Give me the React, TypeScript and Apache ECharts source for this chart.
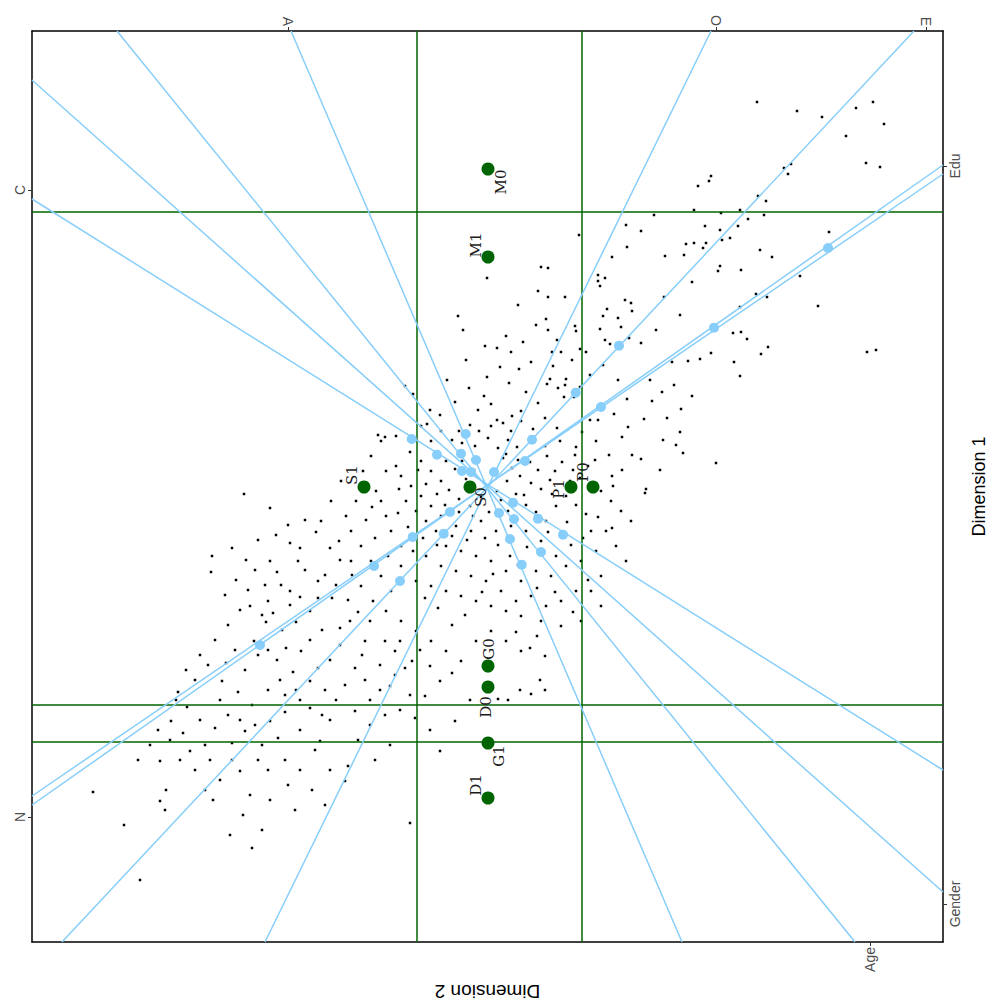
import React, { useEffect, useRef } from "react";
import * as echarts from "echarts";

// Plot units (the chart has no numeric scale; units follow the picture, y grows downward)
const X_MIN = 32;
const X_MAX = 943;
const Y_MIN = 31;
const Y_MAX = 942;

// Variable axes (calibrated biplot axes): names and the two points where each meets the frame
const variableNames = ["A", "O", "E", "C", "N", "Edu", "Gender", "Age"];
const variableLines: number[][][] = [
  [[291, 31], [682, 942]],
  [[711, 31], [265, 942]],
  [[914, 31], [62, 942]],
  [[32, 199], [943, 770]],
  [[32, 805], [943, 165]],
  [[32, 796], [943, 174]],
  [[32, 80], [943, 892]],
  [[117, 31], [855, 942]],
];

// Calibration markers on the variable axes
const axisMarkers: number[][] = [
  [411.7, 439], [437, 454.7], [465.7, 434], [461, 453.7], [476, 460], [462, 471],
  [471, 472], [494, 472], [532, 439.7], [525, 461], [513, 502.7], [499, 513],
  [514, 519], [538, 518.7], [563, 534.7], [541, 552], [510, 539], [521.7, 564.7],
  [450, 512], [443.7, 533.7], [412.7, 537], [619, 345.7], [575.7, 392.7], [601, 407],
  [714, 327.7], [828, 248], [374, 566], [400, 581], [260, 645],
];

// Category level points
const levelNames = ["M0", "M1", "S1", "S0", "P1", "P0", "G0", "D0", "G1", "D1"];
const levelPoints: number[][] = [
  [488, 169], [488, 257], [364, 487], [470, 487], [571, 487],
  [593, 487], [488, 666], [488, 687], [488, 743], [488, 798],
];

// Reference lines
const verticalRefs = [417, 582];
const horizontalRefs = [212, 705, 742];

// Frame tick labels (variable names at the frame)
const topTickValues = [288, 716, 926];
const topTickLabels = ["A", "O", "E"];
const bottomTickValues = [870];
const bottomTickLabels = ["Age"];
const leftTickValues = [190, 817];
const leftTickLabels = ["C", "N"];
const rightTickValues = [166, 904];
const rightTickLabels = ["Edu", "Gender"];

// Individuals
const individuals: number[][] = [
  // upper right
  [757, 102], [797, 111], [873, 102], [884, 124], [822, 117], [846, 136], [856, 108], [866, 163],
  [880, 167], [791, 164], [788, 174], [784, 168], [709, 181], [711, 176], [698, 186], [758, 196],
  [766, 201], [764, 215], [721, 213], [740, 210], [748, 219], [694, 210], [738, 226], [720, 230],
  [722, 240], [730, 238], [706, 243], [686, 244], [694, 243], [703, 248], [760, 250], [772, 257],
  [684, 255], [654, 215], [641, 231], [626, 225], [627, 247], [665, 256], [705, 226], [829, 232],
  [720, 266], [718, 271], [741, 270], [756, 294], [740, 307], [767, 297], [733, 333], [747, 339],
  [741, 332], [800, 276], [818, 306], [612, 257], [598, 281], [600, 286], [598, 275], [605, 278],
  [625, 300], [631, 303], [632, 311], [607, 309], [603, 316], [600, 329], [621, 327], [618, 318],
  [629, 338], [610, 344], [605, 340], [664, 297], [680, 315], [692, 282], [656, 330],
  // right middle
  [761, 354], [768, 347], [734, 362], [740, 376], [711, 353], [700, 359], [688, 361], [672, 362],
  [641, 343], [662, 392], [674, 385], [681, 409], [680, 432], [683, 453], [676, 445], [716, 463],
  [663, 440], [644, 419], [652, 401], [667, 418], [641, 459], [867, 352], [876, 350], [646, 489],
  [645, 493], [692, 396], [650, 380], [660, 470],
  // upper centre
  [538, 291], [565, 297], [548, 268], [579, 235], [541, 267], [548, 297], [575, 326], [576, 331],
  [580, 349], [586, 352], [561, 352], [572, 360], [552, 352], [557, 340], [548, 330], [536, 325],
  [546, 319], [553, 366], [550, 379], [547, 384], [558, 388], [565, 385], [566, 379], [564, 397],
  [574, 397], [580, 387], [590, 420], [598, 420], [622, 437], [628, 427], [614, 414], [627, 399],
  [609, 455], [595, 460], [613, 486], [612, 476], [518, 305], [506, 336], [523, 342], [511, 352],
  [531, 362], [519, 369], [500, 367], [509, 383], [526, 392], [538, 403], [521, 411], [512, 416],
  [503, 423], [533, 429], [545, 418], [557, 428], [560, 441], [576, 447], [582, 432], [596, 441],
  [588, 466], [573, 470], [547, 456], [530, 462], [517, 447], [508, 440], [590, 375], [603, 365],
  [618, 380], [632, 455], [622, 470],
  [458, 316], [466, 360], [485, 346], [497, 348], [487, 377], [469, 388], [484, 396], [491, 404],
  [478, 410], [497, 420], [405, 386], [413, 394], [385, 437], [378, 435], [427, 424], [440, 415],
  [455, 402], [447, 380], [430, 410], [470, 425], [463, 330], [487, 278],
  // core
  [452, 440], [462, 443], [475, 446], [488, 438], [498, 448], [503, 458], [512, 468], [520, 476],
  [531, 483], [541, 489], [552, 494], [507, 481], [497, 491], [481, 497], [470, 506], [459, 499],
  [449, 490], [441, 481], [431, 471], [421, 461], [410, 452], [446, 461], [455, 469], [466, 479],
  [501, 500], [516, 494], [526, 505], [536, 512], [546, 521], [556, 506], [566, 496], [576, 505],
  [586, 514], [591, 531], [571, 545], [556, 556], [541, 541], [526, 531], [511, 526], [496, 531],
  [481, 521], [471, 531], [456, 526], [441, 516], [431, 506], [421, 496], [411, 486], [401, 476],
  [396, 466], [406, 501], [416, 511], [426, 521], [436, 531], [446, 546], [461, 551], [476, 556],
  [491, 561], [506, 571], [521, 581], [536, 571], [551, 576], [566, 566], [581, 561], [596, 551],
  [601, 576], [591, 591], [576, 591], [561, 601], [546, 606], [531, 596], [516, 601], [501, 591],
  [486, 581], [471, 576], [456, 571], [441, 566], [426, 556], [413, 551], [401, 546], [391, 531],
  [386, 516], [381, 501], [376, 491], [371, 456], [381, 441], [396, 436], [421, 426], [386, 471],
  [399, 489], [431, 441], [441, 431], [459, 431], [479, 431], [491, 426], [511, 431], [521, 421],
  [532, 441], [545, 446], [555, 471], [570, 481], [580, 478], [601, 491], [611, 501], [621, 511],
  [631, 521], [606, 531], [616, 546], [626, 561], [601, 606], [581, 621], [561, 626], [541, 621],
  [521, 616], [506, 611], [491, 606], [476, 601], [461, 596], [446, 591], [431, 586], [416, 581],
  [401, 566], [391, 591], [381, 576], [371, 561], [361, 546], [351, 531], [346, 516], [356, 501],
  [363, 471], [341, 481], [331, 501], [321, 521], [339, 541], [351, 561], [361, 586], [373, 601],
  [386, 611], [401, 621], [416, 631], [431, 641], [446, 651], [461, 661], [476, 641], [491, 631],
  [506, 641], [521, 651], [537, 636], [545, 656], [465, 615], [452, 625], [438, 608], [425, 598],
  [482, 592], [493, 574], [510, 556], [527, 547], [548, 532], [567, 522], [583, 538], [598, 517],
  [612, 528], [588, 580], [573, 612], [555, 592], [537, 588], [518, 565], [498, 545], [485, 538],
  [467, 540], [452, 536], [437, 545], [423, 538], [408, 527], [398, 513], [388, 556], [375, 538],
  [366, 520], [372, 507], [437, 494], [426, 484], [418, 470], [462, 461], [474, 470], [506, 454],
  [518, 460], [538, 470], [550, 480], [562, 462], [575, 455], [524, 495], [508, 511], [489, 512],
  [473, 516], [459, 512], [445, 505],
  // lower left
  [244, 494], [270, 508], [232, 548], [212, 556], [211, 572], [290, 543], [300, 548], [298, 561],
  [270, 561], [281, 585], [268, 601], [250, 606], [262, 615], [273, 613], [254, 641], [266, 622],
  [290, 591], [300, 597], [310, 611], [325, 575], [318, 581], [332, 598], [340, 628], [330, 660],
  [318, 668], [301, 651], [286, 648], [277, 660], [293, 672], [310, 681], [325, 690], [300, 700],
  [285, 712], [270, 721], [252, 705], [238, 692], [226, 663], [222, 681], [220, 700], [208, 665],
  [187, 707], [178, 692], [171, 721], [183, 733], [205, 745], [190, 751], [210, 760], [232, 743],
  [245, 731], [262, 745], [278, 738], [285, 760], [268, 770], [250, 795], [243, 815], [262, 830],
  [240, 771], [213, 800], [160, 801], [165, 810], [140, 880], [93, 792], [124, 825], [160, 761],
  [348, 766], [345, 781], [320, 741], [330, 720], [355, 711], [370, 700], [390, 686], [410, 695],
  [395, 651], [380, 665], [365, 641], [350, 621], [370, 621], [385, 641], [400, 641], [412, 661],
  [430, 666], [440, 681], [425, 696], [410, 823], [440, 751], [455, 721], [470, 700], [508, 700],
  [520, 690], [540, 680], [516, 632], [530, 648], [545, 690], [316, 532], [305, 520], [288, 525],
  [276, 535], [258, 540], [246, 560], [236, 580], [225, 595], [240, 610], [228, 625], [215, 640],
  [200, 655], [195, 680], [186, 670], [176, 700], [200, 720], [215, 728], [228, 715], [240, 720],
  [255, 725], [268, 690], [280, 680], [296, 690], [310, 708], [322, 715], [336, 700], [345, 685],
  [355, 668], [362, 655], [340, 645], [322, 630], [310, 640], [296, 622], [282, 630], [348, 600],
  [358, 612], [336, 585], [318, 598], [352, 575], [340, 560], [330, 548], [305, 570], [290, 605],
  [277, 572], [265, 585], [255, 570], [248, 590], [258, 655], [245, 670], [235, 650], [268, 650],
  [285, 695], [300, 730], [315, 750], [330, 770], [300, 770], [288, 785], [270, 800], [258, 760],
  [312, 790], [325, 805], [295, 810], [232, 760], [220, 780], [205, 790], [195, 770], [180, 760],
  [170, 740], [158, 730], [150, 745], [138, 760], [166, 790], [230, 835], [252, 848], [358, 740],
  [370, 725], [385, 715], [400, 710], [415, 718], [430, 730], [380, 690], [395, 675], [405, 668],
  [420, 650], [365, 680], [375, 760], [390, 745], [452, 673], [498, 699], [531, 694],
];

// label displacement of the level names on screen (styling): [right, down]
const levelLabelShift: number[][] = [
  [13, 13], [-12, -12], [-12, -12], [11, 10], [-12, 2],
  [-10, -15], [1, -17], [-2, 20], [11, 13], [-12, -13],
];

const SANS = "'Liberation Sans', Arial, sans-serif";
const TICK_COLOR = "#4d4d4d";

function tickFormatter(values: number[], labels: string[]) {
  return (v: number) => {
    let best = 0;
    for (let i = 0; i < values.length; i++) {
      if (Math.abs(values[i] - v) < Math.abs(values[best] - v)) best = i;
    }
    return labels[best];
  };
}

function frameAxis(values: number[], labels: string[], extra: any) {
  return {
    type: "value",
    min: extra.min,
    max: extra.max,
    inverse: !!extra.inverse,
    position: extra.position,
    axisLine: { show: true, onZero: false, lineStyle: { color: "#000", width: 1.5 } },
    axisTick: { show: true, length: 4, lineStyle: { color: "#333", width: 1 }, customValues: values },
    axisLabel: {
      show: true,
      customValues: values,
      formatter: tickFormatter(values, labels),
      rotate: 90,
      color: TICK_COLOR,
      fontSize: 14,
      fontFamily: SANS,
      margin: 5,
    },
    splitLine: { show: false },
    ...extra.more,
  };
}

export default function App() {
  const ref = useRef<HTMLDivElement>(null);

  useEffect(() => {
    if (!ref.current) return;
    const chart = echarts.init(ref.current, undefined, { renderer: "svg" });

    const series: any[] = [];

    series.push({
      type: "scatter",
      data: individuals,
      symbol: "rect",
      symbolSize: 2.5,
      itemStyle: { color: "#000", opacity: 1 },
      silent: true,
      z: 1,
    });

    verticalRefs.forEach((x) => {
      series.push({
        type: "line",
        data: [[x, Y_MIN], [x, Y_MAX]],
        symbol: "none",
        lineStyle: { color: "#006400", width: 1.5 },
        silent: true,
        z: 2,
      });
    });
    horizontalRefs.forEach((y) => {
      series.push({
        type: "line",
        data: [[X_MIN, y], [X_MAX, y]],
        symbol: "none",
        lineStyle: { color: "#006400", width: 1.5 },
        silent: true,
        z: 2,
      });
    });

    variableLines.forEach((seg, i) => {
      series.push({
        type: "line",
        name: variableNames[i],
        data: seg,
        symbol: "none",
        lineStyle: { color: "#87CEFA", width: 1.5 },
        silent: true,
        z: 3,
      });
    });

    series.push({
      type: "scatter",
      data: axisMarkers,
      symbolSize: 10,
      itemStyle: { color: "#87CEFA", opacity: 1 },
      silent: true,
      z: 4,
    });

    series.push({
      type: "scatter",
      data: levelPoints.map((p, i) => ({
        value: p,
        name: levelNames[i],
        // offset is applied in the rotated label frame
        label: { offset: [-levelLabelShift[i][1], levelLabelShift[i][0]] },
      })),
      symbolSize: 13,
      itemStyle: { color: "#006400", opacity: 1 },
      label: {
        show: true,
        formatter: "{b}",
        position: "inside",
        rotate: 90,
        color: "#1a1a1a",
        fontSize: 15,
        fontFamily: "'DejaVu Serif', serif",
      },
      silent: true,
      z: 5,
    });

    chart.setOption({
      animation: false,
      backgroundColor: "#fff",
      grid: { left: 32, right: 46, top: 31, bottom: 62, containLabel: false, outerBoundsMode: "none" },
      xAxis: [
        frameAxis(bottomTickValues, bottomTickLabels, {
          min: X_MIN,
          max: X_MAX,
          position: "bottom",
          more: {
            name: "Dimension 2",
            nameLocation: "middle",
            nameGap: 40,
            nameRotate: 180,
            nameTextStyle: { fontSize: 19, color: "#000", fontFamily: SANS },
          },
        }),
        frameAxis(topTickValues, topTickLabels, { min: X_MIN, max: X_MAX, position: "top" }),
      ],
      yAxis: [
        frameAxis(leftTickValues, leftTickLabels, {
          min: Y_MIN,
          max: Y_MAX,
          inverse: true,
          position: "left",
        }),
        frameAxis(rightTickValues, rightTickLabels, {
          min: Y_MIN,
          max: Y_MAX,
          inverse: true,
          position: "right",
          more: {
            name: "Dimension 1",
            nameLocation: "middle",
            nameGap: 25,
            nameRotate: 90,
            nameTextStyle: { fontSize: 18, color: "#000", fontFamily: SANS },
          },
        }),
      ],
      series,
    });

    return () => chart.dispose();
  }, []);

  return (
    <div
      ref={ref}
      style={{ position: "fixed", left: 0, top: 0, width: 989, height: 1004, background: "#fff" }}
    />
  );
}
